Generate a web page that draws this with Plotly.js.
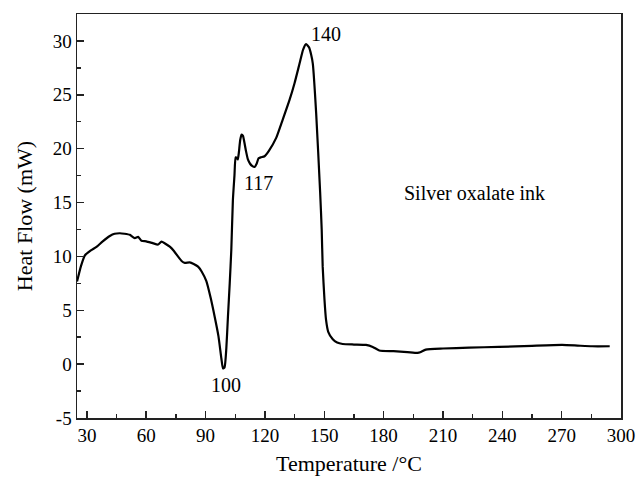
<!DOCTYPE html>
<html>
<head>
<meta charset="utf-8">
<script src="https://cdn.plot.ly/plotly-3.0.1.min.js"></script>
<style>html,body{margin:0;padding:0;background:#fff;}#chart{width:638px;height:481px;}</style>
</head>
<body>
<div id="chart"></div>
<script>
const temperature = [25,27,29,32,35,38,41.6,44,46.7,49,51.7,54.2,55.9,57.6,60,63,66,67.7,69.5,71.9,74,76.1,78,79.5,82,84,86.2,88,90.4,92.5,94.6,96.5,98,98.8,99.6,100.5,101.3,102.2,103,103.8,104.6,105.2,106,106.3,106.8,107.5,108.2,108.9,109.6,110.4,111.4,112.5,113.5,114.8,115.8,116.8,118,119.8,122,125.7,129,132.4,135,137.5,139.3,140.8,142.3,143.4,144.2,145.9,147.9,148.7,149.2,150.1,150.9,152,154.3,156.5,159.3,165,171.1,174.5,177.8,185,192,197.1,198.5,201.3,210,223.2,238.3,255,270.2,278,285.4,294.3];
const heatFlow = [7.66,9.1,10.1,10.55,10.9,11.4,11.9,12.1,12.15,12.1,12.0,11.7,11.82,11.46,11.4,11.25,11.1,11.37,11.2,10.9,10.5,9.98,9.55,9.4,9.45,9.3,9.05,8.6,7.7,6.2,4.4,2.6,0.5,-0.4,-0.3,1.5,4.4,7.5,10.6,15.2,17.5,19.2,19.1,19.0,19.6,20.8,21.3,21.2,20.6,19.8,19.0,18.6,18.4,18.3,18.6,19.1,19.2,19.3,19.8,21.0,22.7,24.5,26.1,27.9,29.2,29.7,29.4,28.7,27.9,23.3,16.0,12.5,9.05,6.0,4.1,3.0,2.3,2.0,1.87,1.82,1.78,1.6,1.27,1.2,1.12,1.05,1.1,1.35,1.45,1.53,1.6,1.7,1.78,1.72,1.66,1.66];

const xTickVals = [30,60,90,120,150,180,210,240,270,300];
const yTickVals = [-5,0,5,10,15,20,25,30];
const yTickText = ["-5","0","5","10","15","20","25","30"];

const peakLabels = ["100","117","140"];
const peakX = [100.1,117,151];
const peakY = [-1.9,16.8,30.6];
const sampleLabel = "Silver oxalate ink";

const font = "Liberation Serif, Times New Roman, serif";

const annotations = peakLabels.map((t,i)=>({x:peakX[i],y:peakY[i],text:t,showarrow:false,xref:'x',yref:'y',font:{family:font,size:20,color:'#000'}}));
annotations.push({x:225.7,y:15.9,text:sampleLabel,showarrow:false,xref:'x',yref:'y',font:{family:font,size:20,color:'#000'}});

Plotly.newPlot('chart',[{
  x: temperature, y: heatFlow, type:'scatter', mode:'lines',
  line:{color:'#000',width:2.2,shape:'spline',smoothing:0.5}
}],{
  width:638,height:481,
  margin:{l:77,r:17,t:14,b:63},
  paper_bgcolor:'#fff',plot_bgcolor:'#fff',
  showlegend:false,
  font:{family:font,size:19,color:'#000'},
  xaxis:{range:[25,300],tickvals:xTickVals,ticks:'inside',ticklen:7,tickwidth:1.5,tickcolor:'#222',
    minor:{ticks:'inside',ticklen:4,dtick:15,tick0:30,tickcolor:'#222',tickwidth:1.5},
    showline:true,linecolor:'#222',linewidth:1.5,mirror:true,showgrid:false,zeroline:false,
    tickfont:{family:font,size:19,color:'#000'},
    title:{text:'Temperature /°C',font:{family:font,size:22,color:'#000'},standoff:10}},
  yaxis:{range:[-5,32.5],tickvals:yTickVals,ticktext:yTickText,ticks:'inside',ticklen:7,tickwidth:1.5,tickcolor:'#222',
    minor:{ticks:'inside',ticklen:4,dtick:2.5,tick0:0,tickcolor:'#222',tickwidth:1.5},
    showline:true,linecolor:'#222',linewidth:1.5,mirror:true,showgrid:false,zeroline:false,
    tickfont:{family:font,size:19,color:'#000'},
    title:{text:'Heat Flow (mW)',font:{family:font,size:22,color:'#000'},standoff:14}},
  annotations:annotations
},{staticPlot:true,displayModeBar:false});
</script>
</body>
</html>
